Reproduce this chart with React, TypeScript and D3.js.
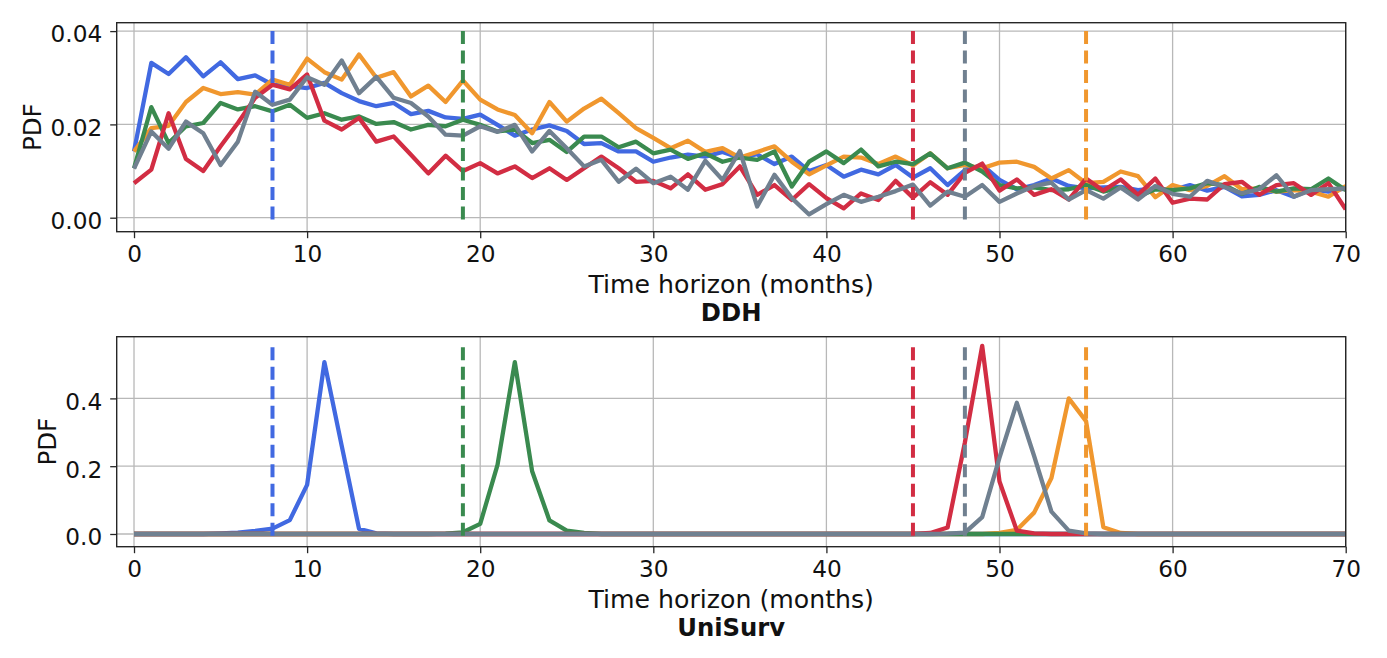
import * as React from 'react';
import {useEffect, useRef} from 'react';
import * as d3 from 'd3';

// months on the x axis
const months = d3.range(0, 71);
const xTicks = [0, 10, 20, 30, 40, 50, 60, 70];

const seriesNames = ['blue', 'orange', 'green', 'red', 'gray'];
const seriesColors = ['#4169e1', '#f0972e', '#3a8a4f', '#d22d43', '#708090'];

// DDH panel
const ddhBlue = [
  0.0142, 0.0332, 0.0308, 0.0344, 0.0303, 0.0333, 0.0297, 0.0305, 0.0285, 0.0282,
  0.0278, 0.0289, 0.0267, 0.0250, 0.0239, 0.0246, 0.0222, 0.0229, 0.0215, 0.0212,
  0.0221, 0.0199, 0.0176, 0.0189, 0.0198, 0.0186, 0.0158, 0.0160, 0.0142, 0.0142,
  0.0120, 0.0129, 0.0135, 0.0131, 0.0141, 0.0128, 0.0136, 0.0115, 0.0131, 0.0100,
  0.0113, 0.0088, 0.0103, 0.0093, 0.0113, 0.0086, 0.0106, 0.0070, 0.0102, 0.0113,
  0.0081, 0.0061, 0.0070, 0.0084, 0.0068, 0.0063, 0.0065, 0.0066, 0.0059, 0.0063,
  0.0059, 0.0070, 0.0058, 0.0066, 0.0046, 0.0049, 0.0059, 0.0045, 0.0061, 0.0056,
  0.0063,
];
const ddhOrange = [
  0.0142, 0.0192, 0.0197, 0.0248, 0.0278, 0.0265, 0.0269, 0.0264, 0.0296, 0.0285,
  0.0341, 0.0312, 0.0296, 0.0350, 0.0300, 0.0312, 0.0260, 0.0283, 0.0248, 0.0294,
  0.0253, 0.0232, 0.0220, 0.0181, 0.0248, 0.0206, 0.0234, 0.0255, 0.0224, 0.0192,
  0.0171, 0.0149, 0.0165, 0.0141, 0.0149, 0.0129, 0.0141, 0.0153, 0.0120, 0.0093,
  0.0112, 0.0131, 0.0129, 0.0115, 0.0131, 0.0112, 0.0138, 0.0106, 0.0113, 0.0106,
  0.0118, 0.0120, 0.0109, 0.0084, 0.0102, 0.0074, 0.0077, 0.0099, 0.0089, 0.0044,
  0.0070, 0.0059, 0.0068, 0.0089, 0.0061, 0.0063, 0.0056, 0.0059, 0.0056, 0.0045,
  0.0068,
];
const ddhGreen = [
  0.0106, 0.0237, 0.0160, 0.0196, 0.0203, 0.0246, 0.0232, 0.0239, 0.0228, 0.0242,
  0.0214, 0.0224, 0.0210, 0.0217, 0.0201, 0.0205, 0.0189, 0.0199, 0.0196, 0.0210,
  0.0199, 0.0185, 0.0189, 0.0160, 0.0167, 0.0141, 0.0174, 0.0174, 0.0151, 0.0163,
  0.0138, 0.0146, 0.0126, 0.0138, 0.0120, 0.0129, 0.0124, 0.0142, 0.0067, 0.0120,
  0.0142, 0.0117, 0.0146, 0.0110, 0.0120, 0.0115, 0.0138, 0.0106, 0.0118, 0.0099,
  0.0070, 0.0063, 0.0065, 0.0059, 0.0061, 0.0070, 0.0056, 0.0065, 0.0045, 0.0061,
  0.0059, 0.0063, 0.0074, 0.0070, 0.0051, 0.0066, 0.0056, 0.0063, 0.0061, 0.0084,
  0.0059,
];
const ddhRed = [
  0.0074, 0.0103, 0.0224, 0.0126, 0.0100, 0.0153, 0.0203, 0.0257, 0.0285, 0.0275,
  0.0307, 0.0208, 0.0189, 0.0214, 0.0163, 0.0174, 0.0135, 0.0095, 0.0133, 0.0100,
  0.0117, 0.0095, 0.0110, 0.0085, 0.0106, 0.0081, 0.0106, 0.0131, 0.0106, 0.0077,
  0.0079, 0.0063, 0.0093, 0.0060, 0.0072, 0.0110, 0.0049, 0.0070, 0.0038, 0.0072,
  0.0042, 0.0020, 0.0052, 0.0038, 0.0079, 0.0043, 0.0076, 0.0049, 0.0096, 0.0116,
  0.0058, 0.0082, 0.0049, 0.0061, 0.0039, 0.0084, 0.0058, 0.0082, 0.0049, 0.0084,
  0.0032, 0.0041, 0.0039, 0.0072, 0.0077, 0.0049, 0.0070, 0.0074, 0.0049, 0.0074,
  0.0018,
];
const ddhGray = [
  0.0105, 0.0185, 0.0148, 0.0206, 0.0181, 0.0113, 0.0163, 0.0270, 0.0242, 0.0253,
  0.0301, 0.0285, 0.0337, 0.0267, 0.0302, 0.0257, 0.0246, 0.0217, 0.0178, 0.0176,
  0.0196, 0.0184, 0.0199, 0.0142, 0.0186, 0.0149, 0.0110, 0.0124, 0.0077, 0.0105,
  0.0074, 0.0088, 0.0060, 0.0122, 0.0081, 0.0143, 0.0024, 0.0092, 0.0042, 0.0007,
  0.0029, 0.0049, 0.0034, 0.0045, 0.0057, 0.0071, 0.0026, 0.0056, 0.0045, 0.0070,
  0.0034, 0.0052, 0.0068, 0.0075, 0.0039, 0.0059, 0.0041, 0.0065, 0.0039, 0.0068,
  0.0051, 0.0045, 0.0079, 0.0066, 0.0052, 0.0061, 0.0091, 0.0045, 0.0059, 0.0061,
  0.0063,
];

// UniSurv panel
const usBlue = [
  0, 0, 0, 0, 0, 0.002, 0.004, 0.009, 0.016, 0.041,
  0.145, 0.507, 0.26, 0.015, 0.002, 0, 0, 0, 0, 0,
  0, 0, 0, 0, 0, 0, 0, 0, 0, 0,
  0, 0, 0, 0, 0, 0, 0, 0, 0, 0,
  0, 0, 0, 0, 0, 0, 0, 0, 0, 0,
  0, 0, 0, 0, 0, 0, 0, 0, 0, 0,
  0, 0, 0, 0, 0, 0, 0, 0, 0, 0,
  0,
];
const usOrange = [
  0, 0, 0, 0, 0, 0, 0, 0, 0, 0,
  0, 0, 0, 0, 0, 0, 0, 0, 0, 0,
  0, 0, 0, 0, 0, 0, 0, 0, 0, 0,
  0, 0, 0, 0, 0, 0, 0, 0, 0, 0,
  0, 0, 0, 0, 0, 0, 0, 0, 0, 0,
  0.003, 0.012, 0.063, 0.165, 0.40, 0.333, 0.02, 0.003, 0, 0,
  0, 0, 0, 0, 0, 0, 0, 0, 0, 0,
  0,
];
const usGreen = [
  0, 0, 0, 0, 0, 0, 0, 0, 0, 0,
  0, 0, 0, 0, 0, 0, 0, 0, 0.001, 0.005,
  0.03, 0.204, 0.507, 0.185, 0.04, 0.01, 0.003, 0, 0, 0,
  0, 0, 0, 0, 0, 0, 0, 0, 0, 0,
  0, 0, 0, 0, 0, 0, 0, 0, 0, 0,
  0, 0, 0, 0, 0, 0, 0, 0, 0, 0,
  0, 0, 0, 0, 0, 0, 0, 0, 0, 0,
  0,
];
const usRed = [
  0, 0, 0, 0, 0, 0, 0, 0, 0, 0,
  0, 0, 0, 0, 0, 0, 0, 0, 0, 0,
  0, 0, 0, 0, 0, 0, 0, 0, 0, 0,
  0, 0, 0, 0, 0, 0, 0, 0, 0, 0,
  0, 0, 0, 0, 0, 0, 0.003, 0.019, 0.27, 0.555,
  0.155, 0.01, 0.002, 0, 0, 0, 0, 0, 0, 0,
  0, 0, 0, 0, 0, 0, 0, 0, 0, 0,
  0,
];
const usGray = [
  0, 0, 0, 0, 0, 0, 0, 0, 0, 0,
  0, 0, 0, 0, 0, 0, 0, 0, 0, 0,
  0, 0, 0, 0, 0, 0, 0, 0, 0, 0,
  0, 0, 0, 0, 0, 0, 0, 0, 0, 0,
  0, 0, 0, 0, 0, 0, 0, 0.001, 0.004, 0.05,
  0.225, 0.387, 0.23, 0.066, 0.01, 0.002, 0, 0, 0, 0,
  0, 0, 0, 0, 0, 0, 0, 0, 0, 0,
  0,
];

// dashed reference months, same colour order as the series
const refMonths = [8, 55, 19, 45, 48];

const panels = [
  {
    title: 'DDH',
    series: [ddhBlue, ddhOrange, ddhGreen, ddhRed, ddhGray],
    yDomain: [-0.003, 0.0418],
    yTicks: [0, 0.02, 0.04],
    yFormat: '.2f',
    refRange: [-0.0009, 0.04],
    top: 22.7,
    bottom: 231.7,
    yLabelX: 41,
  },
  {
    title: 'UniSurv',
    series: [usBlue, usOrange, usGreen, usRed, usGray],
    yDomain: [-0.0375, 0.582],
    yTicks: [0, 0.2, 0.4],
    yFormat: '.1f',
    refRange: [-0.008, 0.551],
    top: 336.7,
    bottom: 546.7,
    yLabelX: 55.5,
  },
];

const WIDTH = 1387;
const HEIGHT = 658;
const LEFT = 116.7;
const RIGHT = 1345.7;
const FONT = 'DejaVu Sans, sans-serif';

const App = () => {
  const chartRef = useRef(null);

  useEffect(() => {
    const svg = d3.select(chartRef.current);
    svg.selectAll('*').remove();

    const xScale = d3.scaleLinear().domain([-1, 70]).range([LEFT, RIGHT]);

    panels.forEach((p) => {
      const yScale = d3.scaleLinear().domain(p.yDomain).range([p.bottom, p.top]);
      const g = svg.append('g');

      g.append('defs').append('clipPath')
        .attr('id', 'clip-' + p.title)
        .append('rect')
        .attr('x', LEFT)
        .attr('y', p.top)
        .attr('width', RIGHT - LEFT)
        .attr('height', p.bottom - p.top);

      // grid
      g.selectAll('.vgrid')
        .data(xTicks)
        .enter()
        .append('line')
        .attr('x1', d => xScale(d))
        .attr('x2', d => xScale(d))
        .attr('y1', p.top)
        .attr('y2', p.bottom)
        .attr('stroke', '#b8b8b8')
        .attr('stroke-width', 1.3);

      g.selectAll('.hgrid')
        .data(p.yTicks)
        .enter()
        .append('line')
        .attr('x1', LEFT)
        .attr('x2', RIGHT)
        .attr('y1', d => yScale(d))
        .attr('y2', d => yScale(d))
        .attr('stroke', '#b8b8b8')
        .attr('stroke-width', 1.3);

      const plot = g.append('g').attr('clip-path', `url(#clip-${p.title})`);

      const line = d3.line<number>()
        .x((d, i) => xScale(months[i]))
        .y(d => yScale(d));

      p.series.forEach((values, i) => {
        plot.append('path')
          .datum(values)
          .attr('d', line)
          .attr('fill', 'none')
          .attr('stroke', seriesColors[i])
          .attr('stroke-width', 4.3)
          .attr('stroke-linejoin', 'round')
          .attr('stroke-linecap', 'butt');
      });

      refMonths.forEach((m, i) => {
        plot.append('line')
          .attr('x1', xScale(m))
          .attr('x2', xScale(m))
          .attr('y1', yScale(p.refRange[1]))
          .attr('y2', yScale(p.refRange[0]))
          .attr('stroke', seriesColors[i])
          .attr('stroke-width', 4)
          .attr('stroke-dasharray', '13 6.5');
      });

      // frame
      g.append('rect')
        .attr('x', LEFT)
        .attr('y', p.top)
        .attr('width', RIGHT - LEFT)
        .attr('height', p.bottom - p.top)
        .attr('fill', 'none')
        .attr('stroke', '#262626')
        .attr('stroke-width', 1.4);

      // x axis
      const xAxis = g.append('g')
        .attr('transform', `translate(0, ${p.bottom})`)
        .call(d3.axisBottom(xScale).tickValues(xTicks).tickSize(6.5).tickPadding(5).tickFormat(d3.format('d')));
      xAxis.select('.domain').remove();
      xAxis.selectAll('line').attr('stroke', '#262626').attr('stroke-width', 1.3);
      xAxis.selectAll('text')
        .attr('y', 30.8)
        .attr('dy', 0)
        .style('font-family', FONT)
        .style('font-size', '23.2px')
        .attr('fill', '#111');

      // y axis
      const yAxis = g.append('g')
        .attr('transform', `translate(${LEFT}, 0)`)
        .call(d3.axisLeft(yScale).tickValues(p.yTicks).tickSize(6.5).tickPadding(8).tickFormat(d3.format(p.yFormat)));
      yAxis.select('.domain').remove();
      yAxis.selectAll('line').attr('stroke', '#262626').attr('stroke-width', 1.3);
      yAxis.selectAll('text')
        .attr('dy', 10.8)
        .attr('x', -14.5)
        .style('font-family', FONT)
        .style('font-size', '23.2px')
        .attr('fill', '#111');

      g.append('text')
        .attr('transform', `translate(${p.yLabelX}, ${(p.top + p.bottom) / 2}) rotate(-90)`)
        .attr('text-anchor', 'middle')
        .style('font-family', FONT)
        .style('font-size', '24.5px')
        .attr('fill', '#111')
        .text('PDF');

      g.append('text')
        .attr('x', (xScale(-1) + xScale(70)) / 2)
        .attr('y', p.bottom + 61.7)
        .attr('text-anchor', 'middle')
        .style('font-family', FONT)
        .style('font-size', '25.2px')
        .attr('fill', '#111')
        .text('Time horizon (months)');

      g.append('text')
        .attr('x', (xScale(-1) + xScale(70)) / 2)
        .attr('y', p.bottom + 89)
        .attr('text-anchor', 'middle')
        .style('font-family', FONT)
        .style('font-size', '24.3px')
        .style('font-weight', 'bold')
        .attr('fill', '#111')
        .text(p.title);
    });
  }, []);

  return (
    <svg
      ref={chartRef}
      width={WIDTH}
      height={HEIGHT}
      style={{position: 'absolute', left: 0, top: 0, background: '#fff'}}
    ></svg>
  );
};

export default App;
